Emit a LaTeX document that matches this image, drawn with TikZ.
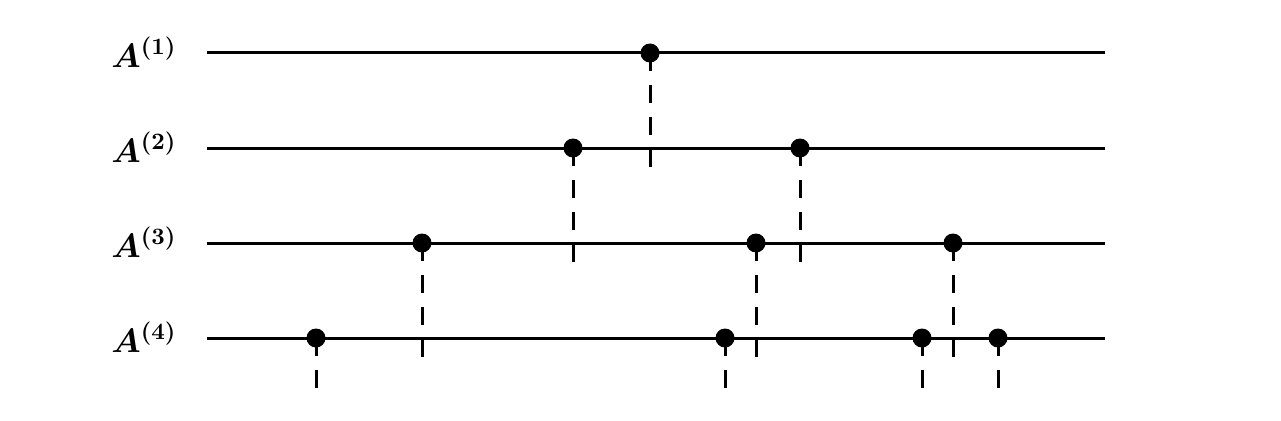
\documentclass[tikz,border=0pt]{standalone}
\begin{document}
\begin{tikzpicture}[x=1pt,y=-1pt,
  rowline/.style={line width=3pt},
  dashline/.style={line width=3pt,dash pattern=on 18pt off 14pt},
  dot/.style={circle,fill=black,draw=none,inner sep=0pt,minimum size=19pt},
  lab/.style={anchor=base east,inner sep=0pt,scale=2.35,font=\Large\boldmath}]
\useasboundingbox (0,0) rectangle (1281,420);
% row lines
\foreach \i/\y in {1/53,2/148,3/243,4/338}{
  \coordinate (s\i) at (207,\y);
  \coordinate (e\i) at (1105,\y);
  \draw[rowline] (s\i) -- (e\i);
}
% labels
\node[lab] (a1) at (177,67) {$A^{(1)}$};
\node[lab] (a2) at (177,162) {$A^{(2)}$};
\node[lab] (a3) at (177,257) {$A^{(3)}$};
\node[lab] (a4) at (177,352) {$A^{(4)}$};
% dots
\node[dot] (d11) at (650,53) {};
\node[dot] (d21) at (573,148) {};
\node[dot] (d22) at (800,148) {};
\node[dot] (d31) at (422,243) {};
\node[dot] (d32) at (756,243) {};
\node[dot] (d33) at (953,243) {};
\node[dot] (d41) at (316,338) {};
\node[dot] (d42) at (725,338) {};
\node[dot] (d43) at (922,338) {};
\node[dot] (d44) at (998,338) {};
% dash ends
\coordinate (t11) at (650,168);
\coordinate (t21) at (573,265);
\coordinate (t22) at (800,265);
\coordinate (t31) at (422,360);
\coordinate (t32) at (756,360);
\coordinate (t33) at (953,360);
\coordinate (t41) at (316,389);
\coordinate (t42) at (725,389);
\coordinate (t43) at (922,389);
\coordinate (t44) at (998,389);
\foreach \n in {11,21,22,31,32,33,41,42,43,44}{
  \draw[dashline] (d\n.center) -- (t\n);
}
\end{tikzpicture}
\end{document}
